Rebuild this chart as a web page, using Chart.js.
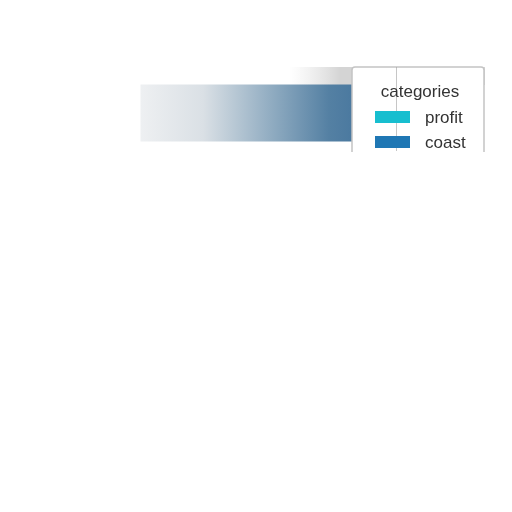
<!DOCTYPE html>
<html>
<head>
<meta charset="utf-8">
<script src="https://cdn.jsdelivr.net/npm/chart.js@4.4.1/dist/chart.umd.min.js"></script>
<style>
html,body{margin:0;padding:0;background:#fff;}
#wrap{width:512px;height:512px;}
</style>
</head>
<body>
<div id="wrap"><canvas id="c" width="512" height="512"></canvas></div>
<script>
const categories = ['total'];
const seriesNames = ['profit', 'coast'];
const profitValues = [0];
const coastValues = [80];
const legendTitle = 'categories';
const seriesColors = ['#17becf', '#1f77b4'];

function barGradient(ctx) {
  const ca = ctx.chart.chartArea;
  if (!ca) return '#4a7ba0';
  const g = ctx.chart.ctx.createLinearGradient(ca.left, 0, ca.left + 210, 0);
  g.addColorStop(0, 'rgba(238,240,242,1)');
  g.addColorStop(0.3, 'rgba(218,224,229,1)');
  g.addColorStop(0.6, 'rgba(150,176,196,1)');
  g.addColorStop(0.9, 'rgba(84,128,163,1)');
  g.addColorStop(1, 'rgba(76,122,160,1)');
  return g;
}

const bgBand = {
  id: 'bgBand',
  beforeDatasetsDraw(chart) {
    const {ctx, chartArea: ca} = chart;
    ctx.save();
    const top = ca.top - 8;
    const g = ctx.createLinearGradient(ca.left + 150, 0, ca.left + 200, 0);
    g.addColorStop(0, 'rgba(225,225,225,0)');
    g.addColorStop(1, 'rgba(212,212,212,1)');
    ctx.fillStyle = g;
    ctx.fillRect(ca.left + 150, top, ca.right - ca.left - 150, 18);
    ctx.restore();
  }
};

const boxLegend = {
  id: 'boxLegend',
  afterDraw(chart) {
    const {ctx, chartArea: ca} = chart;
    ctx.save();
    ctx.beginPath();
    ctx.rect(0, 0, 512, ca.bottom + 1);
    ctx.clip();
    const x0 = ca.right - 133, y0 = ca.top - 8, w = 132, h = 92;
    ctx.fillStyle = '#ffffff';
    ctx.strokeStyle = '#c4c4c4';
    ctx.lineWidth = 1.5;
    ctx.beginPath();
    ctx.roundRect(x0, y0, w, h, 3);
    ctx.fill();
    ctx.stroke();
    const xs = chart.scales.x;
    ctx.strokeStyle = 'rgba(160,160,160,0.6)';
    ctx.lineWidth = 1;
    ctx.beginPath();
    const gx = Math.round(xs.getPixelForValue(75)) + 0.5;
    ctx.moveTo(gx, y0); ctx.lineTo(gx, ca.bottom);
    ctx.stroke();
    ctx.fillStyle = '#333';
    ctx.font = '17px "Liberation Sans", Arial, sans-serif';
    ctx.textAlign = 'center';
    ctx.textBaseline = 'middle';
    ctx.fillText(legendTitle, x0 + 68, y0 + 25);
    chart.data.datasets.forEach((ds, i) => {
      const yy = y0 + 50 + i * 25;
      ctx.fillStyle = seriesColors[i];
      ctx.fillRect(x0 + 23, yy - 6, 35, 12);
      ctx.fillStyle = '#333';
      ctx.textAlign = 'left';
      ctx.fillText(ds.label, x0 + 73, yy + 1);
    });
    ctx.restore();
  }
};

new Chart(document.getElementById('c'), {
  type: 'bar',
  data: {
    labels: categories,
    datasets: [
      { label: seriesNames[0], data: profitValues, backgroundColor: seriesColors[0] },
      { label: seriesNames[1], data: coastValues, backgroundColor: barGradient }
    ]
  },
  options: {
    indexAxis: 'y',
    responsive: false,
    animation: false,
    devicePixelRatio: 1,
    layout: { padding: { left: 140, top: 75, right: 27, bottom: 361 } },
    plugins: { legend: { display: false }, tooltip: { enabled: false } },
    scales: {
      x: {
        stacked: true, min: 0, max: 101,
        ticks: { display: false, stepSize: 25 },
        border: { display: false },
        grid: { drawTicks: false, color: 'rgba(0,0,0,0)' }
      },
      y: {
        stacked: true,
        ticks: { display: false },
        border: { display: false },
        grid: { display: false, drawTicks: false }
      }
    },
    datasets: { bar: { barPercentage: 0.8, categoryPercentage: 0.94 } }
  },
  plugins: [bgBand, boxLegend]
});
</script>
</body>
</html>
